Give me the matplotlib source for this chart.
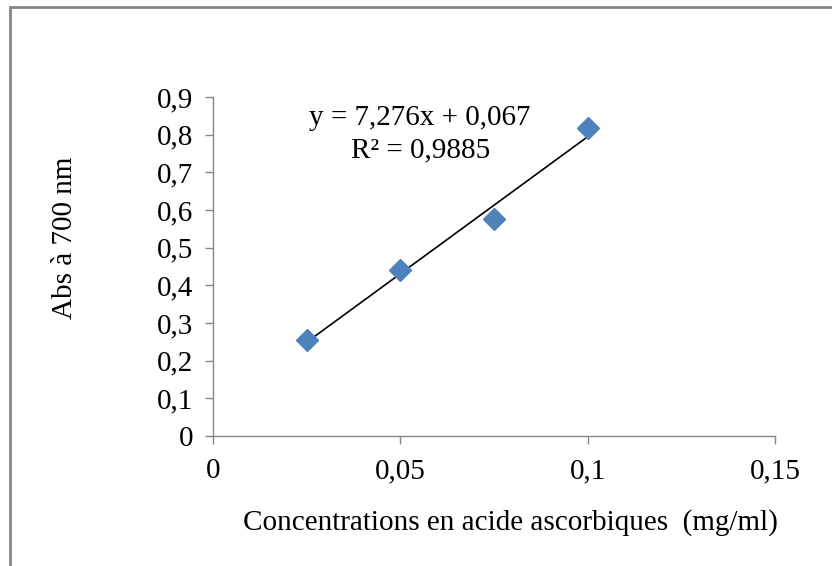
#!/usr/bin/env python

# Absorbance at 700 nm vs ascorbic acid concentration, with linear trend line

import numpy as np
import matplotlib.pyplot as plt
from matplotlib.patches import Rectangle

conc = [0.025, 0.05, 0.075, 0.1]
absorb = [0.255, 0.44, 0.577, 0.817]
slope = 7.276
intercept = 0.067
r2 = 0.9885

xticks = [0, 0.05, 0.1, 0.15]
xticklabels = ['0', '0,05', '0,1', '0,15']
yticks = [0, 0.1, 0.2, 0.3, 0.4, 0.5, 0.6, 0.7, 0.8, 0.9]
yticklabels = ['0', '0,1', '0,2', '0,3', '0,4', '0,5', '0,6', '0,7', '0,8', '0,9']

plt.rcParams['font.family'] = ['Liberation Serif', 'DejaVu Serif']
fs = 21

fig = plt.figure(figsize=(8.32, 5.66), dpi=100)
ax = fig.add_axes([213/832, 130/566, 562/832, 339/566])

gray = '#868686'
ax.plot(conc, absorb, 'D', color='#4F81BD', markersize=11, zorder=3)
xl = np.array([conc[0], conc[-1]])
ax.plot(xl, slope * xl + intercept, color='black', linewidth=1.2, zorder=2)

ax.set_xlim(0, 0.15)
ax.set_ylim(0, 0.9)
ax.set_xticks(xticks)
ax.set_xticklabels(xticklabels)
ax.set_yticks(yticks)
ax.set_yticklabels(yticklabels)
ax.tick_params(direction='out', length=6, width=1, color=gray, labelsize=fs, pad=8)
ax.tick_params(axis='x', pad=10)
for s in ['top', 'right']:
    ax.spines[s].set_visible(False)
for s in ['left', 'bottom']:
    ax.spines[s].set_color(gray)
    ax.spines[s].set_linewidth(1)

ax.text(0.0553, 0.844, 'y = 7,276x + 0,067', fontsize=fs, ha='center', va='center')
ax.text(0.0553, 0.759, 'R² = ' + str(r2).replace('.', ','), fontsize=fs,
        ha='center', va='center')

fig.text(510/832, 1 - 523/566, 'Concentrations en acide ascorbiques  (mg/ml)',
         fontsize=fs, ha='center', va='center')
fig.text(65/832, 1 - 238/566, 'Abs à 700 nm', fontsize=fs, rotation=90,
         ha='center', va='center')

fig.patches.append(Rectangle((10/832, -0.1), 1.2, 1.1 - 7/566, transform=fig.transFigure,
                             fill=False, edgecolor=gray, linewidth=2))

fig.savefig('out.png', dpi=100)
